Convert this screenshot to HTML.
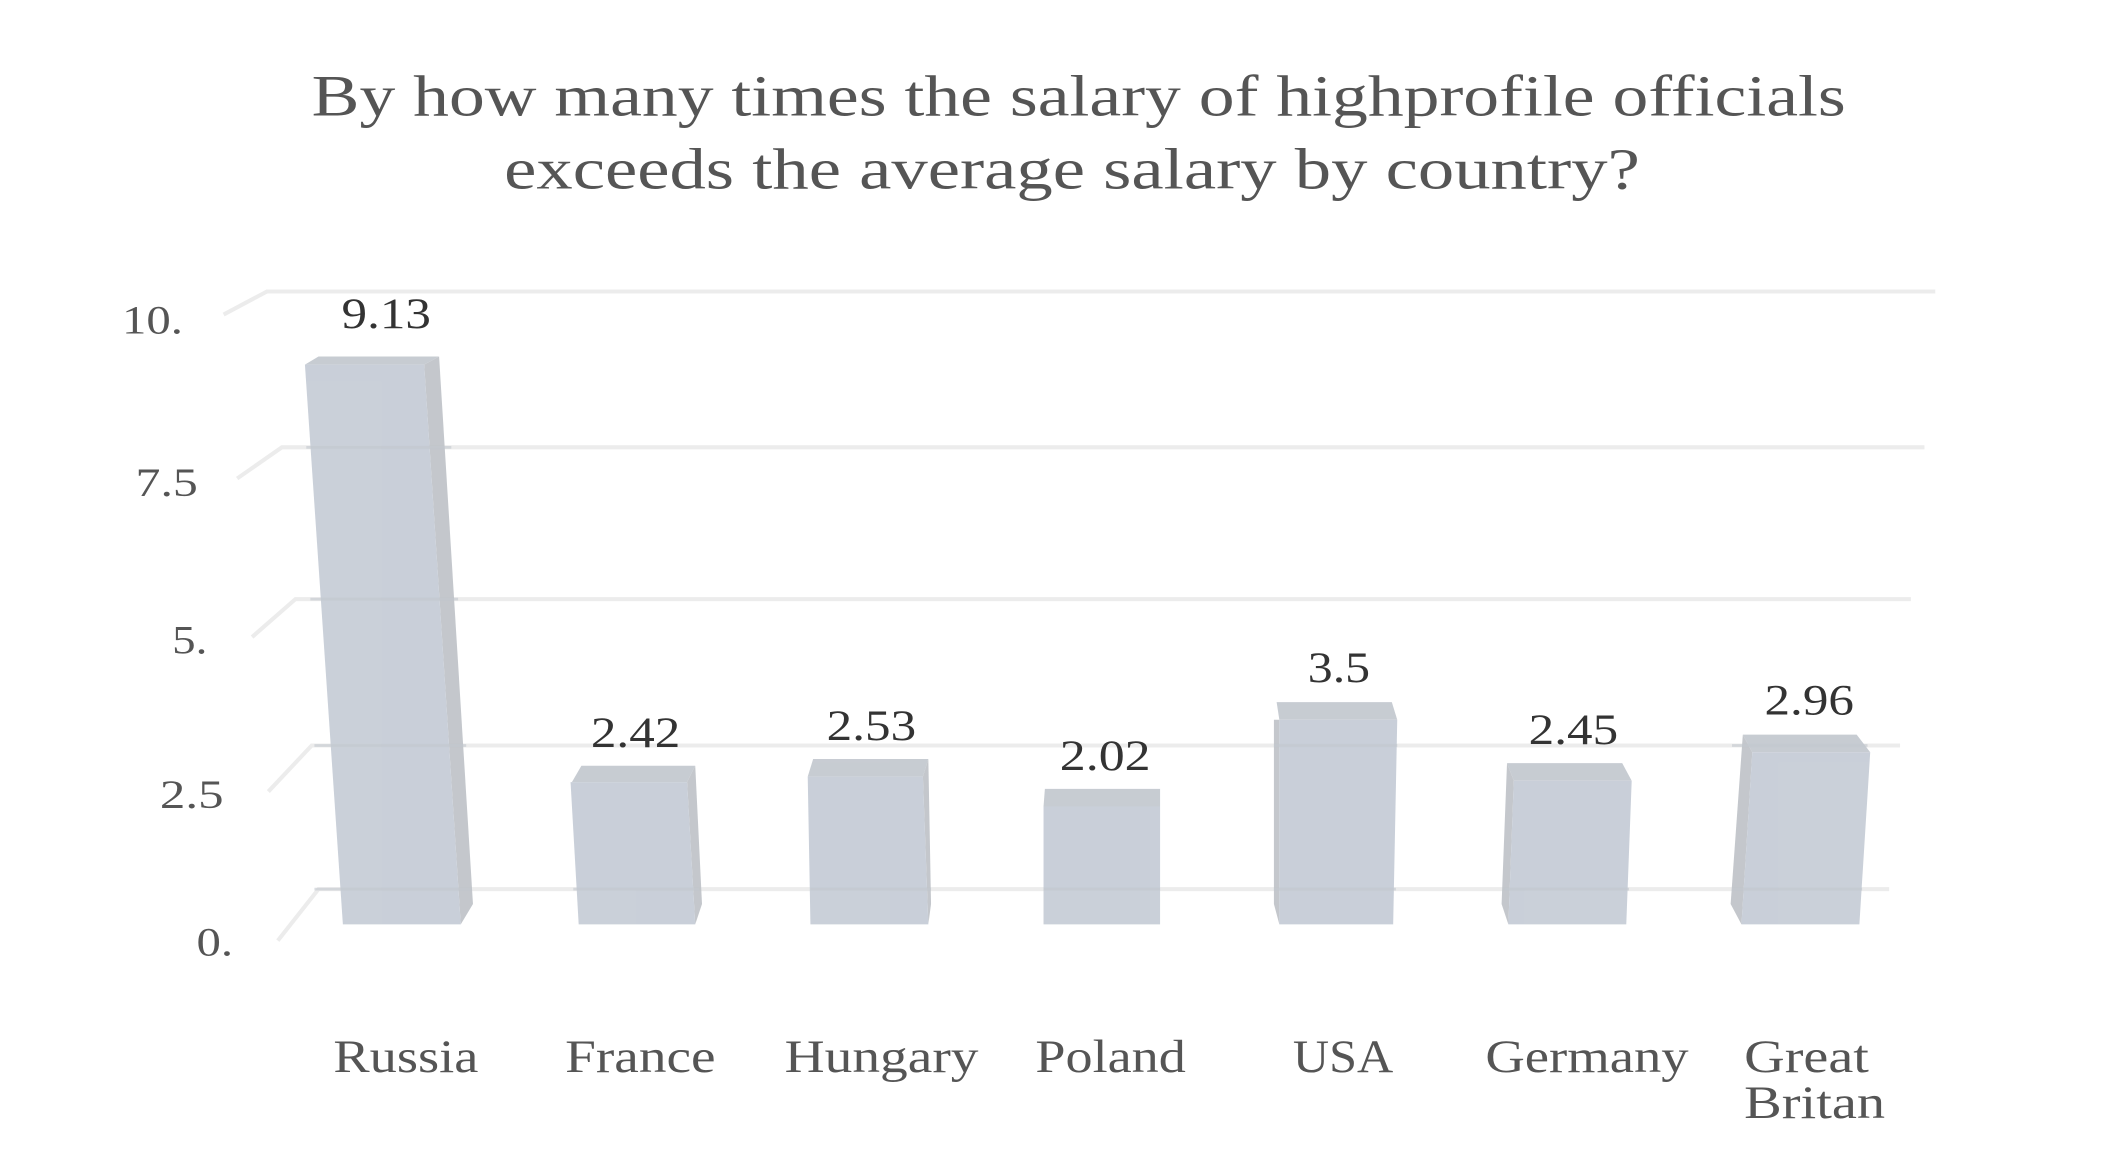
<!DOCTYPE html>
<html><head><meta charset="utf-8"><style>html,body{margin:0;padding:0;background:#fff}svg{display:block}</style></head>
<body>
<svg width="2125" height="1163" viewBox="0 0 1568 858" xmlns="http://www.w3.org/2000/svg" font-family="'Liberation Serif', serif">
<g fill="#555" font-size="43">
<text x="230" y="85" textLength="1132" lengthAdjust="spacingAndGlyphs">By how many times the salary of highprofile officials</text>
<text x="372" y="139" textLength="838" lengthAdjust="spacingAndGlyphs">exceeds the average salary by country?</text>
</g>
<g stroke="#ececec" stroke-width="3" fill="none">
<polyline points="165,232 197,215 1428,215"/>
<polyline points="175,353 208,330 1420,330"/>
<polyline points="186,470 218,442 1410,442"/>
<polyline points="198,584 230,550 1402,550"/>
<polyline points="205,694 235,656 1394,656"/>
</g>
<g fill="#555" font-size="30">
<text x="90" y="246" textLength="45" lengthAdjust="spacingAndGlyphs">10.</text>
<text x="100" y="366" textLength="46" lengthAdjust="spacingAndGlyphs">7.5</text>
<text x="127" y="482" textLength="26" lengthAdjust="spacingAndGlyphs">5.</text>
<text x="118" y="596" textLength="47" lengthAdjust="spacingAndGlyphs">2.5</text>
<text x="145" y="705" textLength="27" lengthAdjust="spacingAndGlyphs">0.</text>
</g>
<g opacity="0.92">
<polygon points="225,269 235,263 324,263 313,269" fill="#c3c8cf"/>
<polygon points="313,269 324,263 349,667 340,682" fill="#bfc3c8"/>
<polygon points="225,269 313,269 340,682 253,682" fill="#c5ccd6"/>
<polygon points="422,577 429,565 513,565 507,577" fill="#c3c8cf"/>
<polygon points="507,577 513,565 518,667 513,682" fill="#bfc3c8"/>
<polygon points="421,577 507,577 513,682 427,682" fill="#c5ccd6"/>
<polygon points="596,573 600,560 685,560 681,573" fill="#c3c8cf"/>
<polygon points="681,573 685,560 687,667 685,682" fill="#bfc3c8"/>
<polygon points="596,573 681,573 685,682 598,682" fill="#c5ccd6"/>
<polygon points="770,595 771,582 856,582 856,595" fill="#c3c8cf"/>
<polygon points="770,595 856,595 856,682 770,682" fill="#c5ccd6"/>
<polygon points="942,518 1027,518 1031,531 944,531" fill="#c3c8cf"/>
<polygon points="940,531 944,531 944,682 940,667" fill="#bfc3c8"/>
<polygon points="944,531 1031,531 1028,682 944,682" fill="#c5ccd6"/>
<polygon points="1112,563 1197,563 1204,576 1117,576" fill="#c3c8cf"/>
<polygon points="1112,563 1117,576 1113,682 1108,667" fill="#bfc3c8"/>
<polygon points="1117,576 1204,576 1200,682 1113,682" fill="#c5ccd6"/>
<polygon points="1286,542 1370,542 1380,555 1293,555" fill="#c3c8cf"/>
<polygon points="1286,542 1293,555 1285,682 1277,667" fill="#bfc3c8"/>
<polygon points="1293,555 1380,555 1372,682 1285,682" fill="#c5ccd6"/>
</g>
<g stroke="#c3c8cf" stroke-width="2" fill="none" opacity="0.6">
<line x1="226" y1="330" x2="333" y2="330"/>
<line x1="229" y1="442" x2="338" y2="442"/>
<line x1="232" y1="550" x2="344" y2="550"/>
<line x1="232" y1="656" x2="348" y2="656"/>
<line x1="423" y1="656" x2="516" y2="656"/>
<line x1="598" y1="656" x2="687" y2="656"/>
<line x1="770" y1="656" x2="856" y2="656"/>
<line x1="940" y1="550" x2="1031" y2="550"/>
<line x1="940" y1="656" x2="1030" y2="656"/>
<line x1="1110" y1="656" x2="1202" y2="656"/>
<line x1="1278" y1="550" x2="1378" y2="550"/>
<line x1="1278" y1="656" x2="1374" y2="656"/>
</g>
<g fill="#333" font-size="32">
<text x="252" y="242" textLength="66" lengthAdjust="spacingAndGlyphs">9.13</text>
<text x="436" y="551" textLength="66" lengthAdjust="spacingAndGlyphs">2.42</text>
<text x="610" y="546" textLength="66" lengthAdjust="spacingAndGlyphs">2.53</text>
<text x="782" y="568" textLength="67" lengthAdjust="spacingAndGlyphs">2.02</text>
<text x="965" y="503" textLength="46" lengthAdjust="spacingAndGlyphs">3.5</text>
<text x="1128" y="549" textLength="66" lengthAdjust="spacingAndGlyphs">2.45</text>
<text x="1302" y="527" textLength="66" lengthAdjust="spacingAndGlyphs">2.96</text>
</g>
<g fill="#555" font-size="34">
<text x="246" y="791" textLength="107" lengthAdjust="spacingAndGlyphs">Russia</text>
<text x="417" y="791" textLength="111" lengthAdjust="spacingAndGlyphs">France</text>
<text x="579" y="791" textLength="143" lengthAdjust="spacingAndGlyphs">Hungary</text>
<text x="764" y="791" textLength="111" lengthAdjust="spacingAndGlyphs">Poland</text>
<text x="954" y="791" textLength="74" lengthAdjust="spacingAndGlyphs">USA</text>
<text x="1096" y="791" textLength="150" lengthAdjust="spacingAndGlyphs">Germany</text>
<text x="1287" y="791" textLength="92" lengthAdjust="spacingAndGlyphs">Great</text>
<text x="1287" y="825" textLength="104" lengthAdjust="spacingAndGlyphs">Britan</text>
</g>
</svg>
</body></html>
